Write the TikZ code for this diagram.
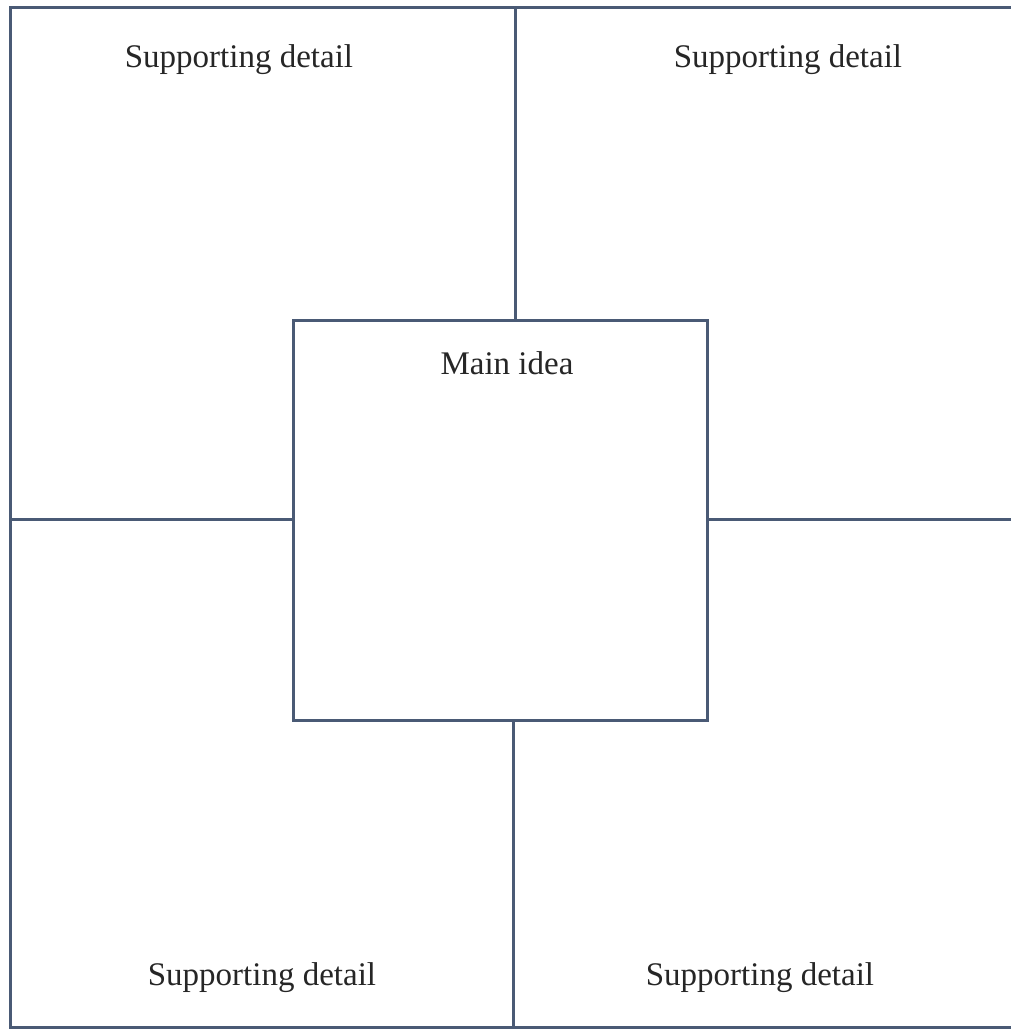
\documentclass[tikz,border=0pt]{standalone}
\usepackage{fontspec}
\setmainfont{Liberation Serif}
\definecolor{linec}{HTML}{4A5A75}
\begin{document}
\begin{tikzpicture}[x=1pt,y=-1pt,
  frame/.style={draw=linec,line width=3pt},
  lbl/.style={font=\fontsize{33}{36}\selectfont,text=black!85,inner sep=0pt}]
\useasboundingbox (0,0) rectangle (1011,1030);
\fill[white] (0,0) rectangle (1011,1030);
% outer frame (open on the right)
\coordinate (tr) at (1011,8);
\coordinate (tl) at (10,8);
\coordinate (bl) at (10,1027);
\coordinate (br) at (1011,1027);
\draw[frame,line cap=rect] (tr) -- (tl) -- (bl) -- (br);
% centre box
\node[frame,minimum width=414pt,minimum height=400pt,inner sep=0pt] (main) at (500,520) {};
\node[lbl] (mainlbl) at (507,363) {Main idea};
% dividers
\coordinate (topmid) at (515,8);
\coordinate (botmid) at (513,1027);
\coordinate (leftmid) at (10,519);
\coordinate (rightmid) at (1011,519);
\draw[frame] (topmid) -- (topmid |- main.north);
\draw[frame] (botmid |- main.south) -- (botmid);
\draw[frame] (leftmid) -- (main.west |- leftmid);
\draw[frame] (main.east |- rightmid) -- (rightmid);
% labels
\node[lbl] (tl1) at (239,60) {Supporting detail};
\node[lbl] (tr1) at (788,60) {Supporting detail};
\node[lbl] (bl1) at (262,978) {Supporting detail};
\node[lbl] (br1) at (760,978) {Supporting detail};
\end{tikzpicture}
\end{document}
